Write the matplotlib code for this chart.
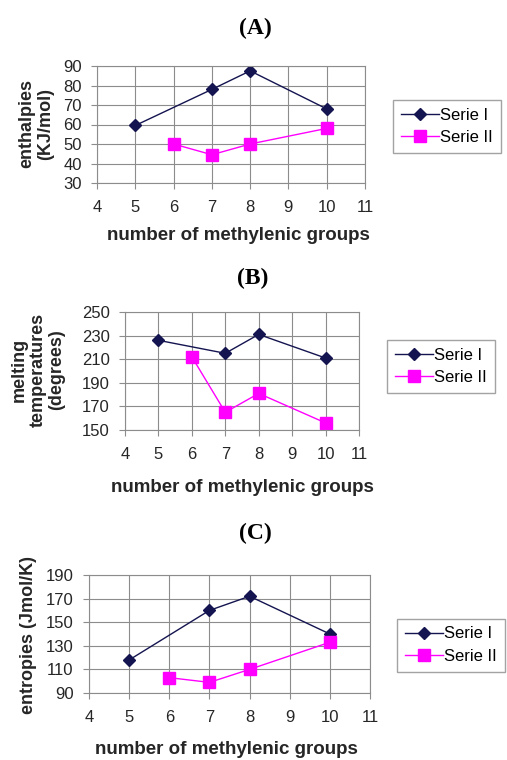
import matplotlib
matplotlib.use('Agg')
from matplotlib import pyplot as plt

# x values (number of methylenic groups)
x1 = [5, 7, 8, 10]
x2 = [6, 7, 8, 10]

# (A) enthalpies
enth1 = [59.5, 78, 87.5, 68]
enth2 = [50, 44.5, 50, 58]

# (B) melting temperatures
melt1 = [226, 215, 231, 211]
melt2 = [212, 165, 181, 156]

# (C) entropies
entr1 = [118, 160, 172, 140]
entr2 = [103, 99, 110, 133]

xticks = [4, 5, 6, 7, 8, 9, 10, 11]

W, H = 507, 760
fig = plt.figure(figsize=(W / 100, H / 100), dpi=100)
plt.rcParams['font.family'] = ['Liberation Sans', 'DejaVu Sans']

navy = '#141450'
magenta = '#ff00ff'
txt = '#262626'


def pix_axes(x0, x1_, y0, y1):
    return fig.add_axes([x0 / W, 1 - y1 / H, (x1_ - x0) / W, (y1 - y0) / H])


def panel(ax, s1, s2, yticks, ylabel, ylab_xy, xlab_xy, leg_box):
    ax.plot(x1, s1, color=navy, lw=1, marker='D', ms=6, label='Serie I')
    ax.plot(x2, s2, color=magenta, lw=1, marker='s', ms=8, label='Serie II')
    ax.set_xlim(4, 11)
    ax.set_ylim(yticks[0], yticks[-1])
    ax.set_xticks(xticks)
    ax.set_yticks(yticks)
    ax.grid(True, color='#8c8c8c', lw=0.8)
    ax.set_axisbelow(True)
    for sp in ax.spines.values():
        sp.set_color('#8c8c8c')
        sp.set_linewidth(0.8)
    ax.tick_params(colors='#8c8c8c', labelcolor=txt, labelsize=12,
                   length=4, width=0.8)
    ax.tick_params(axis='x', pad=8)
    ax.tick_params(axis='y', pad=7)
    ax.set_ylabel(ylabel, fontsize=13, fontweight='bold', color=txt,
                  linespacing=1.15, va='center', ha='center')
    ax.yaxis.set_label_coords(ylab_xy[0] / W, 1 - ylab_xy[1] / H,
                              transform=fig.transFigure)
    ax.set_xlabel('number of methylenic groups', fontsize=13.5,
                  fontweight='bold', color=txt, va='center')
    ax.xaxis.set_label_coords(xlab_xy[0] / W, 1 - xlab_xy[1] / H,
                              transform=fig.transFigure)
    lx, ly = leg_box
    ax.legend(loc='upper left', bbox_to_anchor=(lx / W, 1 - ly / H),
              bbox_transform=fig.transFigure, fontsize=12, frameon=True,
              fancybox=False, edgecolor='#8c8c8c', handlelength=2.3,
              handletextpad=0.1, borderpad=0.45, labelspacing=0.45,
              borderaxespad=0)


axA = pix_axes(97, 365, 66, 183)
panel(axA, enth1, enth2, [30, 40, 50, 60, 70, 80, 90],
      'enthalpies\n(KJ/mol)', (36, 124), (238, 235), (393, 100))

axB = pix_axes(125, 359, 312, 430)
panel(axB, melt1, melt2, [150, 170, 190, 210, 230, 250],
      'melting\ntemperatures\n(degrees)', (38, 370), (242, 488), (387, 340))

axC = pix_axes(89, 370, 575, 693)
panel(axC, entr1, entr2, [90, 110, 130, 150, 170, 190],
      'entropies (Jmol/K)', (29, 635), (226, 749), (397, 619))

for lab, cx, cy in [('(A)', 255, 28), ('(B)', 253, 278), ('(C)', 255, 533)]:
    fig.text(cx / W, 1 - cy / H, lab, ha='center', va='center',
             fontsize=17, fontweight='bold', family='Liberation Serif')

fig.savefig('out.png', dpi=100)
